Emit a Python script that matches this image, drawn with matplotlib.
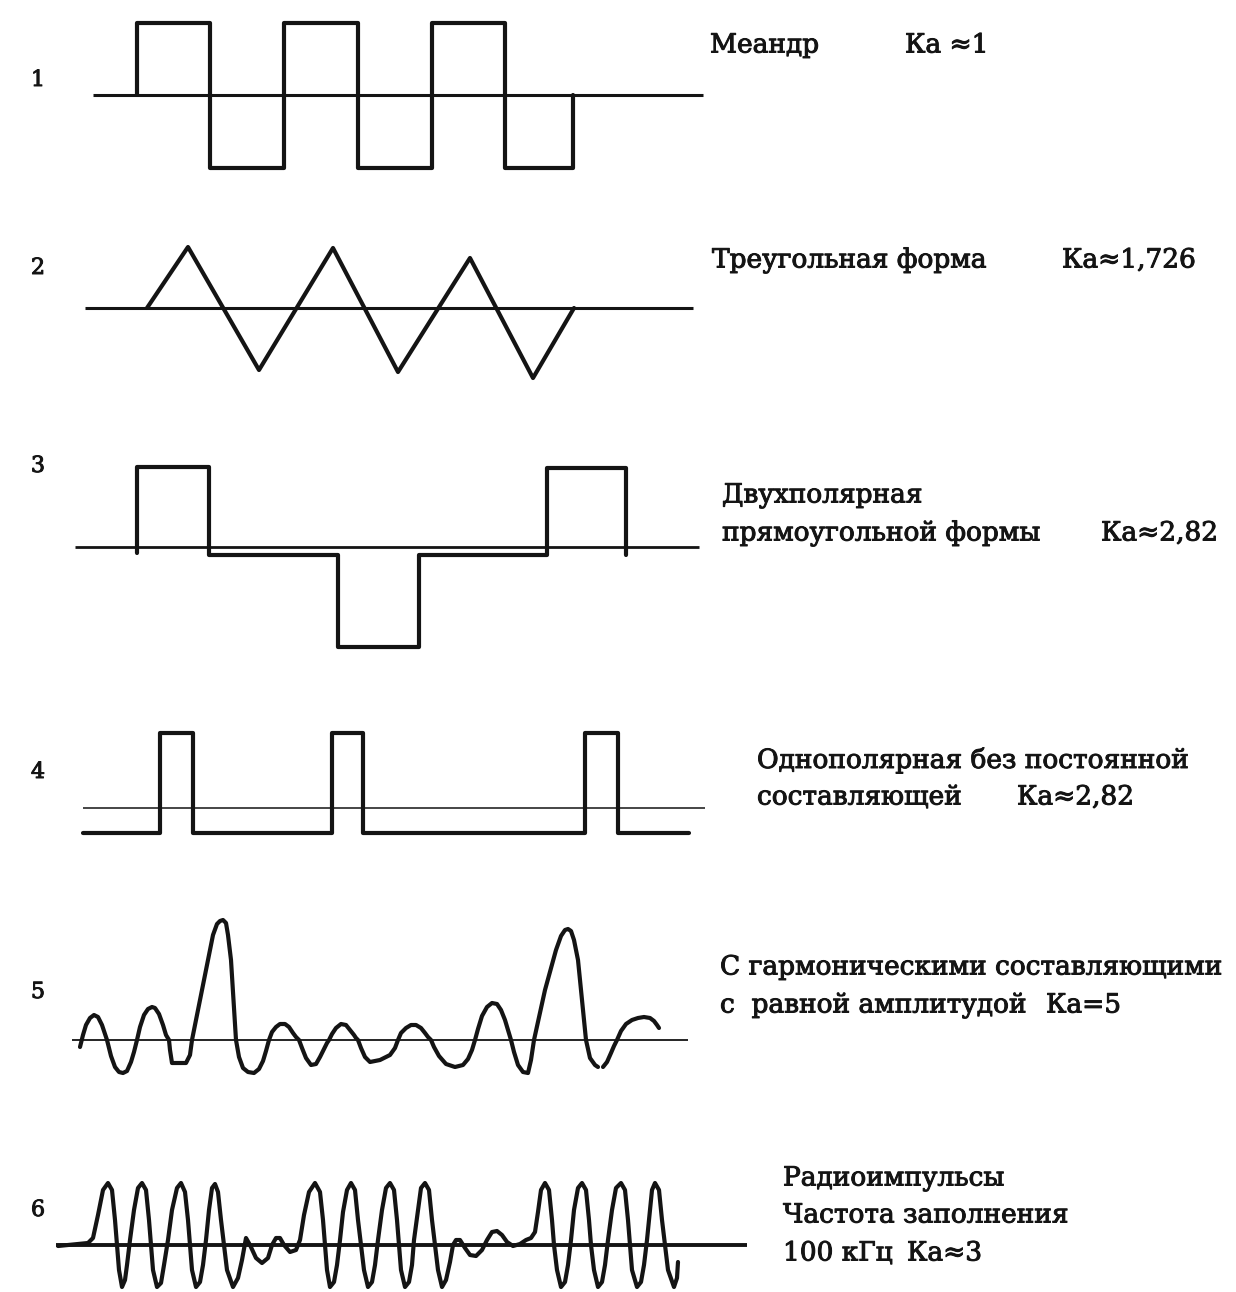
import numpy as np
import matplotlib
matplotlib.use("Agg")
import matplotlib.pyplot as plt
import matplotlib.patheffects as pe

# ---------------- data (time in px-like units, amplitude above the zero line) ----------------
# 1: meander
meander_edges = [137, 210, 284, 358, 432, 505, 573]
meander_levels = [72, -73, 72, -73, 72, -73]

# 2: triangle
tri_t = [147, 188, 259, 333, 398, 470, 533, 574]
tri_a = [0, 61, -62, 60, -64, 50, -70, 0]

# 3: bipolar rectangular
bip_t = [137, 137, 209, 209, 338, 338, 419, 419, 547, 547, 626, 626]
bip_a = [-6, 80, 80, -8, -8, -100, -100, -8, -8, 79, 79, -8]

# 4: unipolar without DC component
uni_edges = [160, 193, 332, 363, 585, 618]
uni_low, uni_high = -25, 75
uni_start, uni_end = 83, 689

# 5: harmonic components of equal amplitude (two traced strokes)
harm_t1 = [80, 83, 86, 90, 94, 98, 102, 107, 111, 115, 119, 123, 127, 131, 134, 137, 140, 144, 148,
           152, 155, 159, 163, 166, 169, 170, 172, 176, 186, 190, 192, 206, 213, 217, 220, 223, 226,
           228, 231, 236, 239, 243, 248, 254, 259, 263, 266, 269, 272, 276, 280, 285, 289, 293, 296,
           299, 302, 306, 311, 316, 320, 324, 327, 329, 332, 336, 341, 346, 350, 354, 356, 358, 361,
           365, 370, 380, 390, 395, 398, 401, 406, 411, 416, 421, 425, 428, 431, 434, 439, 446, 455,
           463, 468, 472, 475, 478, 482, 487, 492, 497, 501, 505, 508, 511, 514, 518, 523, 528, 531,
           534, 545, 556, 561, 565, 568, 571, 574, 578, 583, 586, 590, 595, 598]
harm_a1 = [-7, 5, 15, 22, 25, 23, 15, 0, -16, -27, -32, -33, -31, -22, -12, 0, 13, 25, 31,
           33, 32, 26, 15, 5, 0, -10, -23, -23, -23, -15, 0, 70, 105, 116, 119, 120, 117,
           105, 80, 0, -17, -28, -32, -33, -29, -21, -11, 0, 8, 13, 16, 16, 13, 7, 3,
           0, -8, -18, -25, -24, -17, -9, -3, 0, 6, 12, 16, 15, 10, 5, 2, 0, -8,
           -17, -22, -20, -15, -8, 0, 7, 12, 15, 15, 12, 7, 3, 0, -7, -16, -24, -27,
           -25, -19, -10, 0, 11, 24, 33, 37, 36, 30, 20, 10, 0, -12, -25, -32, -33, -20,
           0, 50, 90, 104, 110, 111, 109, 100, 80, 30, 0, -18, -25, -27]
harm_t2 = [603, 607, 611, 614, 617, 621, 626, 632, 638, 644, 650, 654, 657, 659]
harm_a2 = [-27, -22, -13, -6, 0, 9, 16, 20, 22, 23, 22, 19, 15, 12]

# 6: radio pulses, 100 kHz filling
radio_t = [58, 88, 93, 98, 103, 108, 112, 115, 117, 119, 122, 125, 127, 130, 134, 138, 142, 146, 149,
           151, 153, 157, 161, 164, 168, 172, 177, 181, 185, 188, 190, 192, 196, 200, 203, 206, 209,
           212, 215, 218, 221, 224, 227, 233, 238, 242, 246, 250, 256, 262, 268, 272, 276, 280, 284,
           290, 296, 300, 304, 309, 315, 320, 323, 325, 327, 330, 334, 337, 340, 343, 347, 351, 355,
           358, 361, 364, 368, 372, 375, 378, 382, 386, 390, 394, 397, 399, 401, 405, 409, 412, 414,
           418, 421, 425, 429, 432, 435, 438, 442, 446, 450, 453, 456, 460, 465, 470, 476, 482, 487,
           492, 497, 502, 507, 513, 520, 526, 531, 535, 538, 541, 545, 549, 552, 554, 557, 561, 565,
           568, 571, 574, 578, 582, 586, 589, 591, 594, 598, 602, 605, 608, 612, 616, 621, 625, 628,
           630, 632, 637, 641, 644, 647, 650, 652, 655, 659, 662, 665, 668, 674, 677, 678]
radio_a = [-1, 2, 7, 30, 55, 62, 55, 25, 0, -25, -42, -35, -20, 5, 35, 57, 62, 55, 25,
           0, -25, -42, -38, -20, 5, 35, 57, 62, 53, 25, 0, -25, -42, -37, -20, 5, 35,
           57, 61, 53, 25, 0, -25, -42, -33, -15, 7, 0, -13, -18, -13, 0, 7, 7, 0,
           -7, -5, 5, 30, 53, 62, 53, 25, 0, -25, -42, -37, -20, 5, 33, 55, 62, 55,
           25, 0, -25, -42, -37, -20, 5, 35, 57, 62, 55, 25, 0, -25, -42, -37, -20, 5,
           35, 57, 62, 55, 25, 0, -25, -42, -35, -17, 0, 5, 5, -3, -10, -11, -5, 5,
           13, 14, 10, 3, -1, 1, 5, 7, 13, 33, 55, 62, 55, 25, 0, -25, -42, -37,
           -20, 5, 35, 57, 62, 55, 25, 0, -25, -42, -37, -20, 5, 35, 57, 62, 55, 25,
           0, -25, -42, -37, -20, 5, 35, 55, 62, 55, 25, 0, -25, -42, -33, -17]

numbers = ["1", "2", "3", "4", "5", "6"]
descriptions = [
    [("Меандр", 0), ("Ка ≈1", 195)],
    [("Треугольная форма", 0), ("Ка≈1,726", 350)],
    [("Двухполярная", 0)],
    [("прямоугольной формы", 0), ("Ка≈2,82", 379)],
    [("Однополярная без постоянной", 0)],
    [("составляющей", 0), ("Ка≈2,82", 260)],
    [("С гармоническими составляющими", 0)],
    [("с  равной амплитудой", 0), ("Ка=5", 326)],
    [("Радиоимпульсы", 0)],
    [("Частота заполнения", 0)],
    [("100 кГц", 0), ("Ка≈3", 124)],
]

# ---------------- layout ----------------
W, H = 1236, 1292
fig = plt.figure(figsize=(W / 100, H / 100), dpi=100)
ax = fig.add_axes([0, 0, 1, 1])
ax.set_xlim(0, W)
ax.set_ylim(H, 0)
ax.axis("off")

ink = "#141414"
lw_wave = 3.0
base_y = [95, 308, 547, 808, 1040, 1245]
axis_span = [(93, 703), (85, 693), (75, 699), (83, 705), (72, 688), (56, 747)]
axis_lw = [2.2, 2.2, 2.0, 1.1, 1.3, 2.8]

def zero_line(i):
    x0, x1 = axis_span[i]
    ax.plot([x0, x1], [base_y[i], base_y[i]], color=ink, lw=axis_lw[i], solid_capstyle="butt")

def wave(i, t, a):
    ax.plot(np.asarray(t), base_y[i] - np.asarray(a), color=ink, lw=lw_wave,
            solid_joinstyle="round", solid_capstyle="round")

# 1
zero_line(0)
xs = np.repeat(meander_edges, 2)
ys = np.concatenate([[0], np.repeat(meander_levels, 2), [0]])
wave(0, xs, ys)
# 2
zero_line(1)
wave(1, tri_t, tri_a)
# 3
zero_line(2)
wave(2, bip_t, bip_a)
# 4
zero_line(3)
ux = np.concatenate([[uni_start], np.repeat(uni_edges, 2), [uni_end]])
lv = []
for k in range(len(uni_edges)):
    lv += [uni_low, uni_high] if k % 2 == 0 else [uni_high, uni_low]
ua = np.concatenate([[uni_low], lv, [uni_low]])
wave(3, ux, ua)
# 5
zero_line(4)
wave(4, harm_t1, harm_a1)
wave(4, harm_t2, harm_a2)
# 6
zero_line(5)
wave(5, radio_t, radio_a)

font = "DejaVu Serif"
heavy = [pe.withStroke(linewidth=0.7, foreground=ink)]
# numbers
num_y = [80, 268, 466, 772, 992, 1210]
for n, y in zip(numbers, num_y):
    ax.text(38, y, n, fontsize=16, family=font, color=ink, ha="center", va="center",
            path_effects=heavy)

# descriptions
line_pos = [(710, 45), (712, 260), (722, 495), (722, 533), (757, 760), (757, 797),
            (720, 967), (720, 1005), (783, 1178), (783, 1215), (783, 1253)]
for parts, (x, y) in zip(descriptions, line_pos):
    for txt, dx in parts:
        ax.text(x + dx, y, txt, fontsize=19, family=font,
                color=ink, ha="left", va="center", path_effects=heavy)

fig.savefig("out.png", dpi=100, facecolor="white")
